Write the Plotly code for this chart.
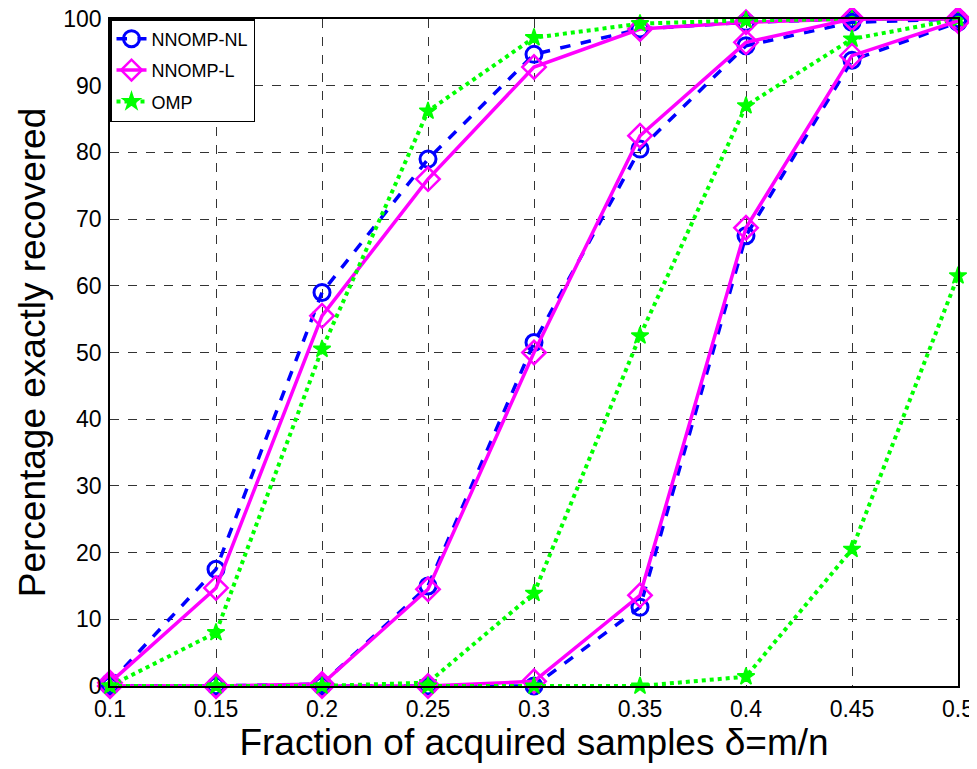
import plotly.graph_objects as go

delta = [0.1, 0.15, 0.2, 0.25, 0.3, 0.35, 0.4, 0.45, 0.5]

# three sparsity levels (left, middle, right groups)
nnomp_nl = [
    [0.5, 17.5, 59.0, 79.0, 94.7, 98.5, 99.5, 100.0, 100.0],
    [0.0, 0.0, 0.3, 15.0, 51.5, 80.5, 96.0, 99.5, 100.0],
    [0.0, 0.0, 0.0, 0.0, 0.0, 11.8, 67.5, 93.8, 99.5],
]
nnomp_l = [
    [0.5, 14.7, 55.5, 76.0, 92.8, 98.5, 99.5, 100.0, 100.0],
    [0.0, 0.0, 0.3, 14.5, 50.0, 82.5, 96.5, 100.0, 100.0],
    [0.0, 0.0, 0.0, 0.0, 0.7, 13.6, 68.7, 94.5, 99.7],
]
omp = [
    [0.0, 8.0, 50.5, 86.2, 97.2, 99.3, 99.8, 100.0, 100.0],
    [0.0, 0.0, 0.0, 0.5, 13.9, 52.5, 87.0, 97.0, 100.0],
    [0.0, 0.0, 0.0, 0.0, 0.0, 0.0, 1.4, 20.5, 61.5],
]

x_ticks = [0.1, 0.15, 0.2, 0.25, 0.3, 0.35, 0.4, 0.45, 0.5]
x_tick_labels = ["0.1", "0.15", "0.2", "0.25", "0.3", "0.35", "0.4", "0.45", "0.5"]
y_ticks = [0, 10, 20, 30, 40, 50, 60, 70, 80, 90, 100]

FONT = "Liberation Sans, Arial, sans-serif"

fig = go.Figure()

for g in range(3):
    fig.add_trace(go.Scatter(
        x=delta, y=nnomp_nl[g], mode="lines+markers", name="NNOMP-NL",
        legendgroup="nl", showlegend=(g == 0), cliponaxis=False,
        line=dict(color="#0000ff", width=3.5, dash="dash"),
        marker=dict(symbol="circle-open", size=16, color="#0000ff", line=dict(width=3, color="#0000ff")),
    ))
    fig.add_trace(go.Scatter(
        x=delta, y=nnomp_l[g], mode="lines+markers", name="NNOMP-L",
        legendgroup="l", showlegend=(g == 0), cliponaxis=False,
        line=dict(color="#ff00ff", width=3.5, dash="solid"),
        marker=dict(symbol="diamond-open", size=18, color="#ff00ff", line=dict(width=2.5, color="#ff00ff")),
    ))
    fig.add_trace(go.Scatter(
        x=delta, y=omp[g], mode="lines+markers", name="OMP",
        legendgroup="omp", showlegend=(g == 0), cliponaxis=False,
        line=dict(color="#00ff00", width=4, dash="dot"),
        marker=dict(symbol="star", size=13, color="#00ff00", line=dict(width=1.5, color="#00ff00")),
    ))

axis_common = dict(
    showline=True, linecolor="black", linewidth=1.5, mirror=True,
    showgrid=True, gridcolor="#333333", gridwidth=1, griddash="dash",
    ticks="", zeroline=False, automargin=False, ticklabeloverflow="allow",
    tickfont=dict(family=FONT, size=23, color="black"),
)

# the page body has an 8px margin, so the figure is sized to the remaining space
fig.update_layout(
    width=969, height=761,
    margin=dict(l=102, r=19, t=11, b=83),
    paper_bgcolor="white", plot_bgcolor="white",
    font=dict(family=FONT, color="black"),
    xaxis=dict(
        range=[0.1, 0.5], tickvals=x_ticks, ticktext=x_tick_labels,
        ticklabelstandoff=2,
        title=dict(text="Fraction of acquired samples δ=m/n", font=dict(size=37), standoff=5),
        **axis_common,
    ),
    yaxis=dict(
        range=[0, 100], tickvals=y_ticks, ticklabelstandoff=2,
        title=dict(text="Percentage exactly recovered", font=dict(size=37), standoff=6),
        **axis_common,
    ),
    legend=dict(
        x=0, y=1, xanchor="left", yanchor="top",
        bgcolor="white", bordercolor="black", borderwidth=1.5,
        font=dict(size=18, color="black"),
        traceorder="grouped", tracegroupgap=5,
        itemwidth=30,
    ),
)

fig.write_html("out.html")
